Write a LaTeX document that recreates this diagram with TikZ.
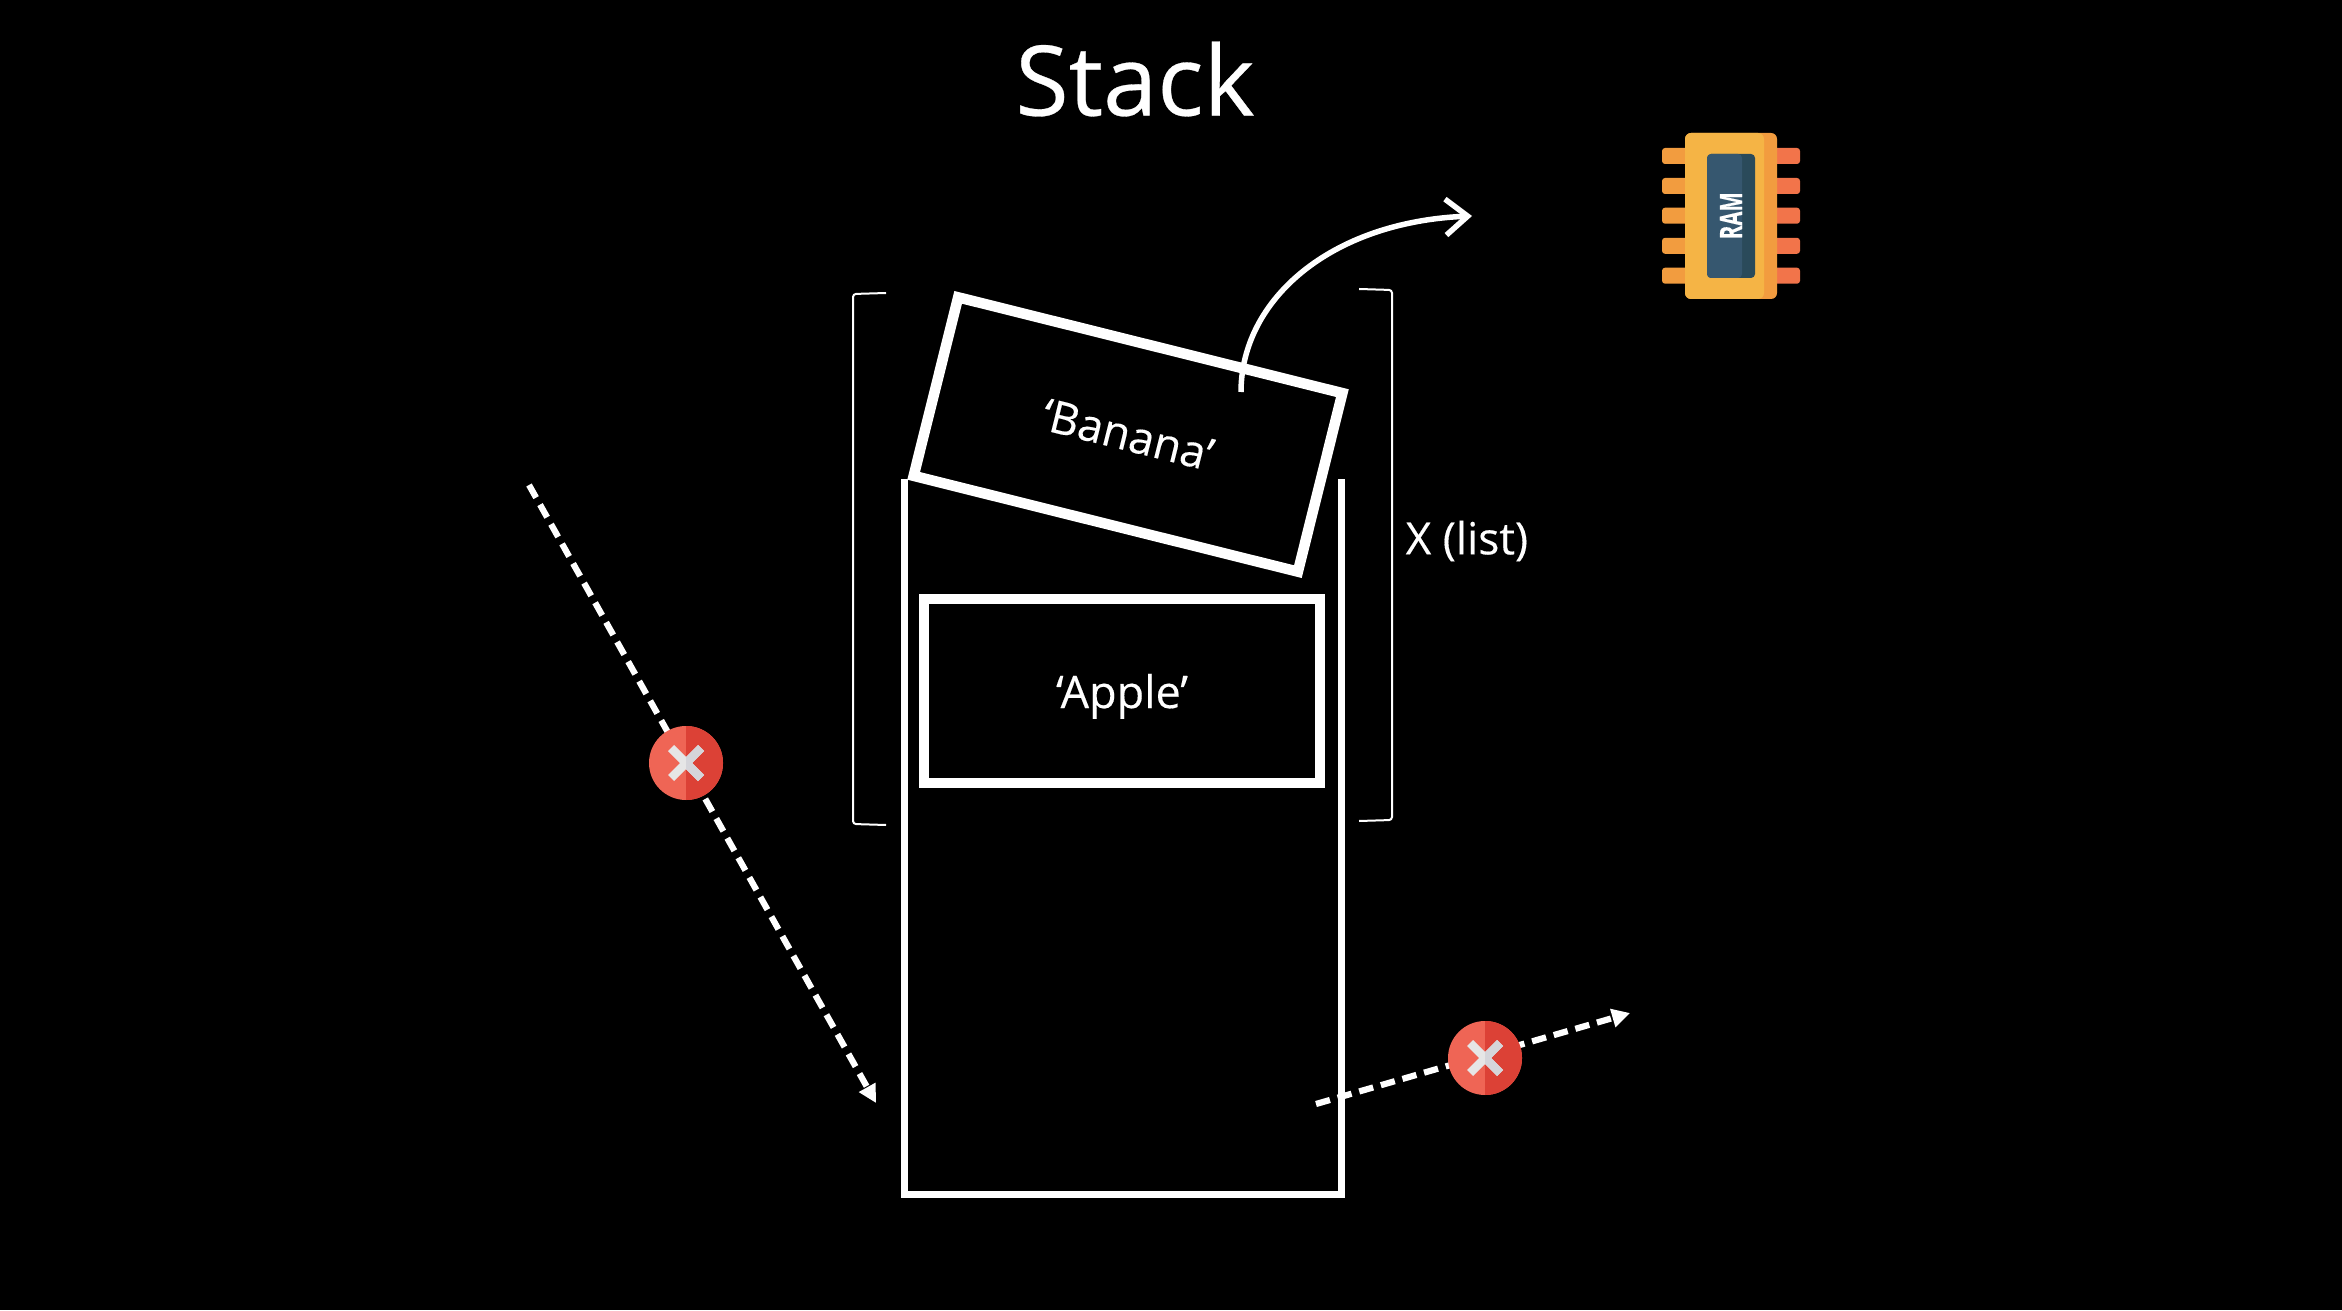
\documentclass[tikz,border=0pt]{standalone}
\usepackage{fontspec}
\setmainfont{Open Sans}[FakeBold=0.3]
\usetikzlibrary{arrows.meta}
\definecolor{rotlinks}{HTML}{EF6555}
\definecolor{rotrechts}{HTML}{DC4136}
\definecolor{chipgelb}{HTML}{F5B445}
\definecolor{chiporange}{HTML}{F29C3F}
\definecolor{chiprot}{HTML}{F2744A}
\definecolor{chipblau}{HTML}{36576F}
\definecolor{chipdunkel}{HTML}{2A4A5A}
\definecolor{kreuzhell}{HTML}{E6E6E6}
\definecolor{kreuzgrau}{HTML}{D5D5DA}
\begin{document}
\begin{tikzpicture}[
kasten/.style={draw=white, line width=0.105cm, minimum width=3.96cm, minimum height=1.84cm, text=white, text depth=0pt, font=\fontsize{12.8}{15}\selectfont},
strich/.style={white, line width=0.062cm, dash pattern=on 0.145cm off 0.08cm},
klammer/.style={white, line width=0.02cm, rounded corners=0.03cm},
kreis/.style={circle, fill=rotlinks, minimum size=0.74cm, inner sep=0pt},
schrift/.style={white, inner sep=0pt},
pin/.style={rounded corners=0.03cm},
]

\fill[black] (0,0) rectangle (23.42,13.1);
\useasboundingbox (0,0) rectangle (23.42,13.1);

\node[schrift, font=\fontsize{27.7}{32}\selectfont] (Titel) at (11.35,12.31) {Stack};

%der Behaelter
\draw[white, line width=0.07cm] (9.045,8.31) -- (9.045,1.16) -- (13.41,1.16) -- (13.41,8.31);

\node[kasten, rotate=-14] (Banana) at (11.28,8.755) {‘Banana’};
\node[kasten] (Apple) at (11.22,6.19) {‘Apple’};

%Klammern
\draw[klammer] (8.86,10.17) -- (8.53,10.16) -- (8.53,4.86) -- (8.86,4.85);
\draw[klammer] (13.59,10.21) -- (13.92,10.20) -- (13.92,4.90) -- (13.59,4.89);
\node[schrift, anchor=west, font=\fontsize{12.6}{15}\selectfont] (Liste) at (14.05,7.69) {X (list)};

\coordinate (RausStart) at (12.41,9.18);
\coordinate (RausEnde) at (14.72,10.94);
\draw[-{Straight Barb[length=0.22cm,width=0.36cm]}, white, line width=0.055cm] (RausStart) .. controls (12.41,10.10) and (13.30,10.88) .. (RausEnde);

\coordinate (LinksStart) at (5.29,8.25);
\coordinate (LinksEnde) at (8.76,2.07);
\coordinate (RechtsStart) at (13.16,2.06);
\coordinate (RechtsEnde) at (16.30,2.97);
\draw[strich, -{Triangle[length=0.18cm,width=0.18cm]}] (LinksStart) -- (LinksEnde);
\draw[strich, -{Triangle[length=0.18cm,width=0.18cm]}] (RechtsStart) -- (RechtsEnde);

%rote Kreuze
\foreach \name/\mx/\my in {KreuzA/6.86/5.47,KreuzB/14.85/2.52} {
\node[kreis] (\name) at (\mx,\my) {};
\fill[rotrechts] (\mx,\my-0.37) arc (-90:90:0.37) -- cycle;
\draw[line width=0.085cm, kreuzhell] (\mx-0.15,\my-0.15) -- (\mx+0.15,\my+0.15);
\draw[line width=0.085cm, kreuzhell] (\mx-0.15,\my+0.15) -- (\mx+0.15,\my-0.15);
\begin{scope}
\clip (\mx,\my-0.3) rectangle (\mx+0.3,\my+0.3);
\draw[line width=0.085cm, kreuzgrau] (\mx-0.15,\my-0.15) -- (\mx+0.15,\my+0.15);
\draw[line width=0.085cm, kreuzgrau] (\mx-0.15,\my+0.15) -- (\mx+0.15,\my-0.15);
\end{scope}
}

%der Chip
\foreach \y in {11.54,11.24,10.943,10.642,10.343} {
\fill[chiporange, pin] (16.62,\y-0.08) rectangle (16.95,\y+0.08);
\fill[chiprot, pin] (17.67,\y-0.08) rectangle (18.00,\y+0.08);
}
\fill[chiporange, rounded corners=0.06cm] (16.85,10.11) rectangle (17.77,11.77);
\fill[chipgelb, rounded corners=0.06cm] (16.85,10.11) rectangle (17.64,11.77);
\fill[chipdunkel, rounded corners=0.04cm] (17.07,10.32) rectangle (17.55,11.56);
\fill[chipblau, rounded corners=0.04cm] (17.07,10.32) rectangle (17.42,11.56);
\node[schrift, rotate=90, xscale=0.66, font=\fontsize{8.8}{10}\bfseries\selectfont] (Ram) at (17.31,10.943) {RAM};

\end{tikzpicture}
\end{document}
